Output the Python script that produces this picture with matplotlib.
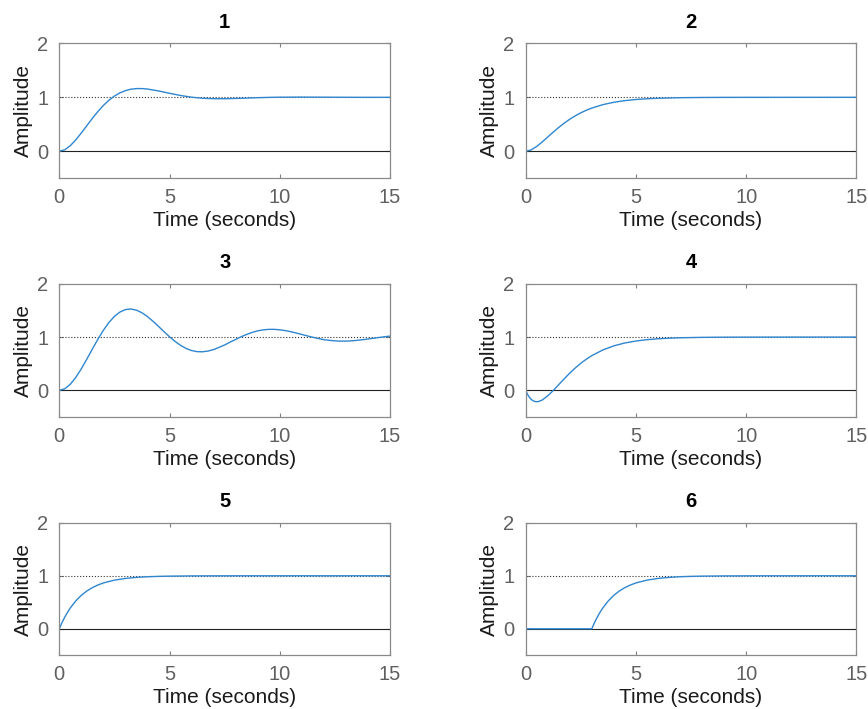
import matplotlib
matplotlib.use("Agg")
import matplotlib.pyplot as plt

plt.rcParams['font.family'] = ['Liberation Sans', 'DejaVu Sans']

titles = ["1", "2", "3", "4", "5", "6"]

# step responses
t1 = [0, 0.25, 0.5, 0.75, 1.0, 1.25, 1.5, 1.75, 2.0, 2.25, 2.5, 2.75, 3.0, 3.25, 3.5, 3.75,
      4.0, 4.5, 5.0, 5.5, 6.0, 6.5, 7.0, 7.5, 8.0, 8.5, 9.0, 9.5, 10, 11, 12, 13, 14, 15]
y1 = [0, 0.0287, 0.1044, 0.2127, 0.3403, 0.4757, 0.6105, 0.7367, 0.8494, 0.9455, 1.0233,
      1.0827, 1.1245, 1.1507, 1.1618, 1.1619, 1.1533, 1.1184, 1.0745, 1.0336, 1.0022, 0.9829,
      0.9743, 0.9741, 0.9790, 0.9861, 0.9931, 0.9986, 1.0022, 1.0043, 1.0026, 1.0005, 0.9994, 1.0]

t2 = [0, 0.25, 0.5, 0.75, 1.0, 1.25, 1.5, 1.75, 2.0, 2.25, 2.5, 2.75, 3.0, 3.5, 4.0, 4.5,
      5.0, 5.5, 6.0, 7.0, 8.0, 9.0, 10, 15]
y2 = [0, 0.0265, 0.0902, 0.1734, 0.2642, 0.3554, 0.4422, 0.5221, 0.5940, 0.6574, 0.7127,
      0.7603, 0.8009, 0.8641, 0.9084, 0.9389, 0.9596, 0.9734, 0.9826, 0.9927, 0.9970, 0.9988,
      0.9995, 1.0]

t3 = [0, 0.25, 0.5, 0.75, 1.0, 1.25, 1.5, 1.75, 2.0, 2.25, 2.5, 2.75, 3.0, 3.25, 3.5, 3.75,
      4.0, 4.25, 4.5, 4.75, 5.0, 5.25, 5.5, 5.75, 6.0, 6.25, 6.5, 6.75, 7.0, 7.25, 7.5, 7.75,
      8.0, 8.25, 8.5, 8.75, 9.0, 9.25, 9.5, 9.75, 10.0, 10.25, 10.5, 10.75, 11.0, 11.25, 11.5,
      11.75, 12.0, 12.25, 12.5, 12.75, 13.0, 13.25, 13.5, 13.75, 14.0, 14.25, 14.5, 14.75, 15.0]
y3 = [0, 0.0301, 0.1147, 0.2436, 0.4053, 0.5862, 0.7748, 0.9587, 1.1277, 1.2727, 1.3874,
      1.4690, 1.5157, 1.5261, 1.5048, 1.4557, 1.3840, 1.2964, 1.1999, 1.1015, 1.0055, 0.9189,
      0.8446, 0.7869, 0.7473, 0.7264, 0.7237, 0.7376, 0.7657, 0.8068, 0.8521, 0.9051, 0.9556,
      1.0060, 1.0494, 1.0869, 1.1167, 1.1347, 1.1443, 1.1446, 1.1361, 1.1213, 1.1004, 1.0756,
      1.0488, 1.0218, 0.9961, 0.9731, 0.9508, 0.9389, 0.9286, 0.9236, 0.9242, 0.9293, 0.9380,
      0.9497, 0.9632, 0.9777, 0.9920, 1.0053, 1.0178]

t4 = [0, 0.1, 0.2, 0.3, 0.4, 0.5, 0.6, 0.75, 1.0, 1.25, 1.5, 1.75, 2.0, 2.25, 2.5, 2.75,
      3.0, 3.5, 4.0, 4.5, 5.0, 5.5, 6.0, 6.5, 7.0, 8.0, 9.0, 10, 12, 15]
y4 = [0, -0.0858, -0.1462, -0.1853, -0.2066, -0.2131, -0.2074, -0.1809, -0.1036, -0.0028,
      0.1075, 0.2180, 0.3233, 0.4203, 0.5075, 0.5845, 0.6515, 0.7584, 0.8352, 0.8889, 0.9259,
      0.9510, 0.9678, 0.9790, 0.9863, 0.9943, 0.9977, 0.9990, 0.9998, 1.0]

t5 = [0, 0.1, 0.2, 0.3, 0.4, 0.5, 0.75, 1.0, 1.25, 1.5, 1.75, 2.0, 2.5, 3.0, 3.5, 4.0,
      4.5, 5.0, 6.0, 7.0, 8.0, 10, 15]
y5 = [0, 0.0952, 0.1813, 0.2592, 0.3297, 0.3935, 0.5276, 0.6321, 0.7135, 0.7769, 0.8262,
      0.8647, 0.9179, 0.9502, 0.9698, 0.9817, 0.9889, 0.9933, 0.9975, 0.9991, 0.9997, 1.0, 1.0]

t6 = [0, 3.0, 3.1, 3.2, 3.3, 3.4, 3.5, 3.75, 4.0, 4.25, 4.5, 4.75, 5.0, 5.5, 6.0, 6.5, 7.0,
      7.5, 8.0, 9.0, 10.0, 11.0, 13.0, 15]
y6 = [0, 0, 0.0952, 0.1813, 0.2592, 0.3297, 0.3935, 0.5276, 0.6321, 0.7135, 0.7769, 0.8262,
      0.8647, 0.9179, 0.9502, 0.9698, 0.9817, 0.9889, 0.9933, 0.9975, 0.9991, 0.9997, 1.0, 1.0]

times = [t1, t2, t3, t4, t5, t6]
amps = [y1, y2, y3, y4, y5, y6]

fig = plt.figure(figsize=(8.68, 7.09), dpi=100)

lefts = [0.0683, 0.6056]
bottoms = [0.7485, 0.4118, 0.0757]
heights = [0.1904, 0.1880, 0.1870]
w = 0.381

for i in range(6):
    row = i // 2
    col = i % 2
    ax = fig.add_axes([lefts[col], bottoms[row], w, heights[row]])
    ax.plot([0, 15], [1, 1], ':', color='#333333', lw=0.8)
    ax.plot([0, 15], [0, 0], '-', color='#222222', lw=0.8)
    ax.plot(times[i], amps[i], color='#2f86cf', lw=1.0)
    ax.set_xlim(0, 15)
    ax.set_ylim(-0.5, 2)
    ax.set_xticks([0, 5, 10, 15])
    ax.set_yticks([0, 1, 2])
    ax.tick_params(direction='in', length=3, width=0.8, colors='#808080',
                   labelcolor='#606060', labelsize=14.5, top=True, right=True)
    ax.tick_params(axis='x', pad=7)
    ax.tick_params(axis='y', pad=8)
    for s in ax.spines.values():
        s.set_color('#8a8a8a')
        s.set_linewidth(0.9)
    ax.set_title(titles[i], fontsize=14.5, fontweight='bold', pad=11)
    ax.set_xlabel("Time (seconds)", fontsize=15, color='#1a1a1a', labelpad=3)
    ax.set_ylabel("Amplitude", fontsize=15, color='#1a1a1a', labelpad=3)

fig.savefig("out.png", dpi=100)
